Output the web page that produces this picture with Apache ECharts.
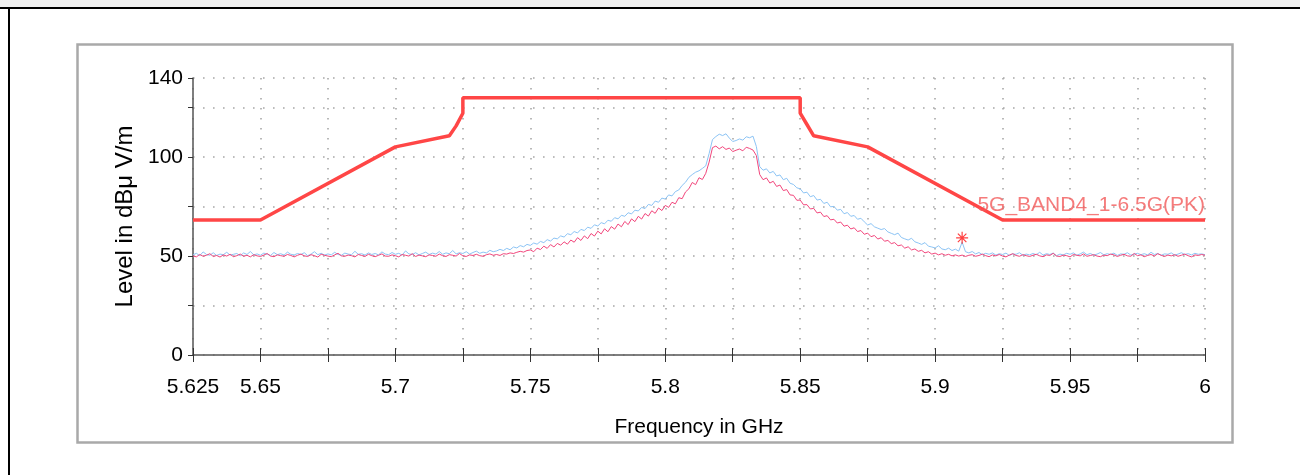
<!DOCTYPE html>
<html><head><meta charset="utf-8">
<script src="https://cdn.jsdelivr.net/npm/echarts@6/dist/echarts.min.js"></script>
<style>html,body{margin:0;padding:0;background:#fff;}#c{width:1300px;height:475px;}</style>
</head><body><div id="c"></div>
<script>
// sweep sampling: first frequency and step (GHz)
const F_START = 5.625, F_STEP = 0.00125;

// red/pink trace (dBµV/m), one value per sample
const tracePink = [
50.1,49.6,50.8,49.9,50.4,51.2,49.8,50.3,49.5,50.6,
50.0,50.9,49.7,50.2,51.0,49.9,50.4,49.6,50.7,50.1,
49.8,50.5,51.3,50.0,49.7,50.6,50.2,49.9,50.8,50.3,
49.6,50.4,51.0,50.1,49.8,50.7,50.2,49.5,50.9,50.4,
50.0,49.7,50.6,51.4,50.1,49.9,50.5,50.2,49.6,50.8,
50.3,49.8,50.9,50.2,49.7,50.4,51.1,50.0,49.9,50.6,
50.2,49.6,50.8,50.4,50.0,51.2,49.8,50.5,50.1,49.7,
50.6,50.3,49.9,51.0,50.2,49.8,50.7,50.4,50.0,51.3,
50.1,49.8,50.6,50.3,50.9,50.2,49.9,50.7,51.1,50.4,
50.8,50.3,51.2,51.0,51.6,51.3,51.9,52.4,52.0,52.8,
53.1,52.2,54.0,53.3,55.0,53.9,55.8,54.6,56.4,55.5,
57.2,56.0,58.1,57.0,59.3,57.9,60.2,58.8,61.4,60.1,
62.6,61.2,63.8,62.3,64.9,63.6,66.2,64.8,67.5,65.9,
68.8,67.4,70.1,68.7,71.5,70.2,72.9,71.6,74.3,73.0,
75.6,74.6,77.2,76.4,79.5,79.0,82.4,84.0,87.2,86.1,
89.6,88.7,91.8,97.5,104.8,105.6,104.2,105.3,103.9,104.6,
102.8,103.5,104.1,103.2,105.0,104.4,103.6,100.8,91.2,88.6,
89.5,86.9,87.8,85.2,85.9,83.1,83.6,80.9,80.7,78.2,
78.3,75.9,76.0,73.8,74.1,71.8,72.2,70.0,70.4,68.3,
68.6,66.7,67.2,65.1,65.6,63.7,64.3,62.4,62.9,61.0,
61.6,59.8,60.4,58.6,59.3,57.5,57.9,56.3,56.8,55.2,
55.6,54.0,54.7,53.1,53.6,52.4,52.9,51.6,52.2,51.0,
51.5,50.6,51.2,50.4,50.9,50.1,50.6,50.0,50.5,49.8,
50.4,50.7,49.9,50.3,51.0,50.2,49.7,50.6,50.1,50.8,
50.0,49.6,50.5,51.2,50.3,49.9,50.7,50.2,49.8,50.4,
50.9,50.1,49.7,50.6,50.3,51.4,50.0,49.8,50.5,50.2,
49.6,50.8,50.4,50.1,51.1,49.9,50.3,50.7,50.0,49.7,
50.5,50.2,51.0,50.6,49.8,50.4,50.9,50.1,49.9,51.3,
50.2,50.6,49.7,50.3,50.8,50.0,51.2,50.4,49.8,50.5,
50.1,50.7,49.9,50.4,51.0,50.2,49.6,50.6,50.3,50.8,
50.4
];

// light blue trace (dBµV/m), one value per sample
const traceBlue = [
50.6,51.4,50.2,52.1,50.8,50.4,51.7,50.3,51.0,50.7,
51.9,50.5,50.9,51.3,50.1,51.6,50.8,52.3,50.6,51.1,
50.4,51.5,50.9,50.3,51.8,50.7,51.2,50.5,52.0,50.9,
50.6,51.3,50.8,51.7,50.2,51.0,52.2,50.7,51.4,50.5,
51.1,50.6,51.9,50.8,50.4,51.5,51.0,50.7,52.4,50.9,
51.2,50.5,51.6,50.8,51.3,50.6,52.1,51.0,50.7,51.8,
50.9,51.4,50.5,52.6,51.1,50.8,51.7,50.6,51.3,52.0,
50.8,51.5,51.0,52.3,50.9,51.6,51.2,52.8,51.1,51.7,
51.3,52.2,51.0,51.8,52.5,51.4,52.0,51.6,52.9,52.2,
52.6,53.4,52.8,53.9,53.2,54.6,54.1,55.3,54.7,55.9,
55.4,56.6,56.0,57.4,56.8,58.3,57.6,59.1,58.7,60.2,
59.6,61.3,60.8,62.4,61.7,63.5,62.9,64.6,64.0,65.8,
65.2,66.9,66.3,68.1,67.6,69.4,68.8,70.6,70.1,71.9,
71.3,73.2,72.8,74.6,74.0,76.1,75.6,77.8,77.2,79.3,
78.8,80.9,80.4,82.6,83.4,85.7,87.3,89.8,91.2,92.4,
93.1,94.3,95.6,101.8,108.9,110.4,111.6,110.9,111.8,109.6,
107.9,108.4,109.2,108.6,110.3,109.8,110.6,105.4,95.2,93.4,
94.1,92.0,92.8,90.5,91.0,88.6,89.3,86.8,86.2,84.5,
84.0,81.9,82.3,80.0,80.6,78.3,78.7,76.6,77.2,74.9,
75.1,73.2,73.6,71.4,72.0,70.1,70.5,68.6,69.1,67.3,
65.7,66.4,64.8,64.1,63.4,63.9,62.2,61.5,60.8,61.6,
59.4,58.7,58.1,59.0,57.2,56.6,55.9,56.8,55.0,54.6,
54.1,55.2,53.6,53.2,54.0,52.8,53.5,52.5,57.0,52.2,
51.6,52.3,51.1,51.8,50.7,51.4,50.9,51.6,50.5,51.2,
50.8,51.5,50.3,51.1,50.9,51.7,50.4,51.0,50.6,51.3,
50.7,51.9,50.5,51.2,50.8,51.5,50.2,51.0,50.6,51.4,
50.9,51.6,50.4,51.1,52.0,50.7,51.3,50.5,51.0,51.8,
50.6,51.2,50.8,51.5,50.3,51.1,50.9,51.7,50.5,51.0,
51.4,50.7,51.2,50.6,51.9,50.8,51.3,50.4,51.1,50.9,
51.6,50.5,51.0,51.7,50.8,51.2,50.6,51.4,50.9,51.1,
50.7
];

// limit line "5G_BAND4_1-6.5G(PK)"
const limitFreq  = [5.625, 5.65, 5.7,   5.72,  5.7225, 5.725, 5.725, 5.85, 5.85,  5.8525, 5.855, 5.875, 5.925, 6.0];
const limitLevel = [68.2,  68.2, 105.2, 110.8, 115.8,  122.2, 130,   130,  122.2, 116.5,  110.8, 105.2, 68.2,  68.2];
const limitName = '5G_BAND4_1-6.5G(PK)';
const limitLabelAt = [6.0, 75.5];

// marker (asterisk)
const markerFreq = [5.91];
const markerLevel = [59.2];

// axes
const xMin = 5.625, xMax = 6.0, xStep = 0.025;
const yMin = 0, yMax = 140, yStep = 25;
const xTickLabels = ['5.625','5.65','5.7','5.75','5.8','5.85','5.9','5.95','6'];
const yTickLabels = ['0','50','100','140'];
const xTitle = 'Frequency in GHz';
const yTitle = 'Level in dBμ V/m';

const pairs = arr => arr.map((v, i) => [F_START + i * F_STEP, v]);
const fmt = v => String(Number(v.toFixed(3)));

const chart = echarts.init(document.getElementById('c'), null, {renderer: 'canvas'});
const FONT = '"Liberation Sans", Arial, sans-serif';
const gridDots = {show: true, lineStyle: {color: '#a8a8a8', width: 1.6, type: [1.6, 8.4]}};

chart.setOption({
  animation: false,
  backgroundColor: '#ffffff',
  textStyle: {fontFamily: FONT},
  grid: {left: 193, right: 95, top: 78, bottom: 120, containLabel: false},
  graphic: [
    {type: 'rect', shape: {x: 0, y: 0, width: 1300, height: 7}, style: {fill: '#f0f0f0'}, silent: true},
    {type: 'rect', shape: {x: 0, y: 7, width: 1300, height: 2}, style: {fill: '#000'}, silent: true},
    {type: 'rect', shape: {x: 8, y: 7, width: 2, height: 468}, style: {fill: '#000'}, silent: true},
    {type: 'rect', shape: {x: 77.5, y: 44.5, width: 1155, height: 398}, style: {fill: 'none', stroke: '#a9a9a9', lineWidth: 2.5}, silent: true}
  ],
  xAxis: [{
    type: 'value', min: xMin, max: xMax, interval: xStep,
    name: xTitle, nameLocation: 'middle', nameGap: 62,
    nameTextStyle: {fontSize: 21, color: '#000', fontFamily: FONT},
    axisLine: {show: true, onZero: false, lineStyle: {color: '#555', width: 1.5}},
    axisTick: {show: true, length: 7, lineStyle: {color: '#333', width: 1}},
    axisLabel: {show: true, margin: 22, fontSize: 21, color: '#000', fontFamily: FONT,
      showMinLabel: true, showMaxLabel: true, hideOverlap: false,
      formatter: v => xTickLabels.includes(fmt(v)) ? fmt(v) : ''},
    splitLine: gridDots
  }, {
    type: 'value', min: xMin, max: xMax, interval: xStep, position: 'bottom',
    axisLine: {show: false}, axisLabel: {show: false}, splitLine: {show: false},
    axisTick: {show: true, inside: true, length: 7, lineStyle: {color: '#333', width: 1}}
  }],
  yAxis: {
    type: 'value', min: yMin, max: yMax, interval: yStep,
    name: yTitle, nameLocation: 'middle', nameGap: 56, nameRotate: 90,
    nameTextStyle: {fontSize: 24, color: '#000', fontFamily: FONT},
    axisLine: {show: true, onZero: false, lineStyle: {color: '#555', width: 1.5}},
    axisTick: {show: true, length: 5, lineStyle: {color: '#333', width: 1}},
    axisLabel: {show: true, margin: 10, fontSize: 21, color: '#000', fontFamily: FONT,
      showMaxLabel: true, formatter: v => yTickLabels.includes(fmt(v)) ? fmt(v) : ''},
    splitLine: gridDots
  },
  series: [
    {type: 'line', name: 'blue', data: pairs(traceBlue), showSymbol: false, symbol: 'none',
      lineStyle: {color: '#8cc4f5', width: 1}, z: 3},
    {type: 'line', name: 'pink', data: pairs(tracePink), showSymbol: false, symbol: 'none',
      lineStyle: {color: '#f2467c', width: 1}, z: 4},
    {type: 'line', name: limitName, data: limitFreq.map((f, i) => [f, limitLevel[i]]), showSymbol: false, symbol: 'none',
      lineStyle: {color: '#ff4646', width: 3.5}, z: 5},
    {type: 'scatter', name: 'marker', data: markerFreq.map((f, i) => [f, markerLevel[i]]),
      symbol: 'path://M10,0 L10,20 M0,10 L20,10 M2.9,2.9 L17.1,17.1 M2.9,17.1 L17.1,2.9', symbolSize: 12, symbolKeepAspect: true,
      itemStyle: {color: 'rgba(0,0,0,0)', borderColor: '#ff1010', borderWidth: 1.2}, z: 6},
    {type: 'scatter', name: 'limitLabel', data: [limitLabelAt], symbolSize: 0, silent: true,
      label: {show: true, position: 'left', distance: 0, formatter: limitName,
        fontSize: 21, color: '#f25a5a', fontFamily: FONT}, z: 6}
  ]
});
</script>
</body></html>
